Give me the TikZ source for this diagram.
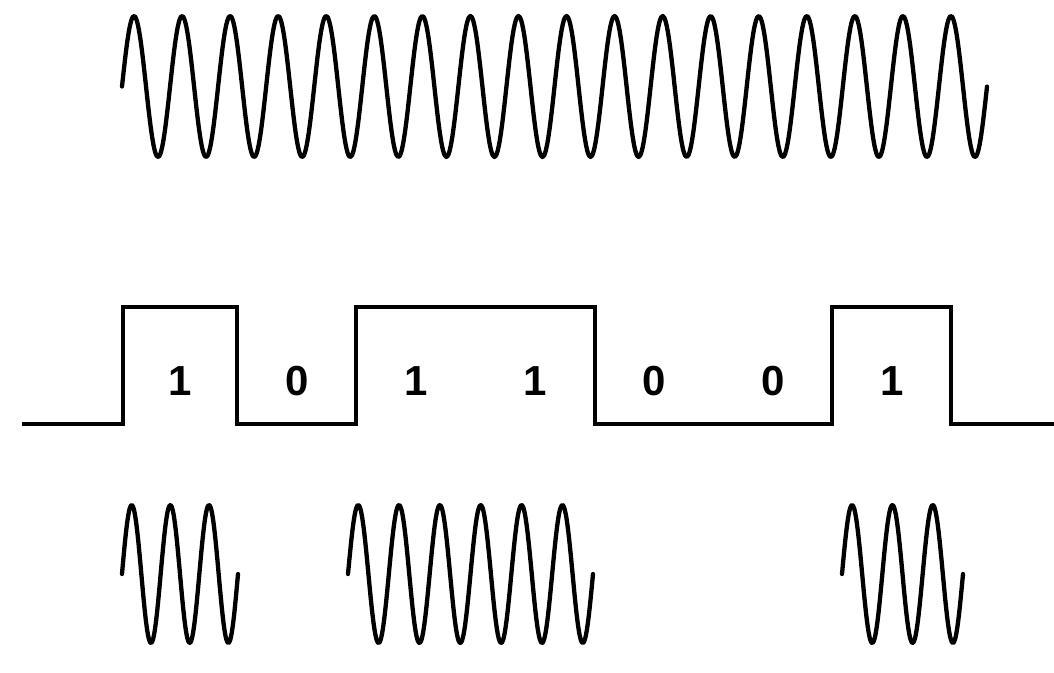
\documentclass[tikz,border=0pt]{standalone}
\usepackage{fontspec}
\setmainfont{Liberation Sans}
\begin{document}
\begin{tikzpicture}[x=1pt,y=-1pt,
  wave/.style={line width=4.3pt, line join=round, line cap=round},
  sig/.style={line width=4.2pt, line join=miter},
  bitlabel/.style={font=\fontsize{42}{46}\selectfont\bfseries, inner sep=0pt}]
\useasboundingbox (0,0) rectangle (1054,672);
% carrier
\draw[wave] plot[smooth, domain=122:987, samples=540] (\x,{86.5-70.5*sin((\x-122)/48.056*360)});
% data signal
\draw[sig] (22,424) -- (123,424) -- (123,307) -- (237,307) -- (237,424) -- (356,424) -- (356,307) -- (595,307) -- (595,424) -- (832,424) -- (832,307) -- (951,307) -- (951,424) -- (1054,424);
\node[bitlabel] (b1) at (180,381) {1};
\node[bitlabel] (b2) at (297,381) {0};
\node[bitlabel] (b3) at (416,381) {1};
\node[bitlabel] (b4) at (535,381) {1};
\node[bitlabel] (b5) at (654,381) {0};
\node[bitlabel] (b6) at (773,381) {0};
\node[bitlabel] (b7) at (892,381) {1};
% modulated bursts
\draw[wave] plot[smooth, domain=122:238, samples=120] (\x,{574-69*sin((\x-122)/38.667*360)});
\draw[wave] plot[smooth, domain=348:593, samples=240] (\x,{574-69*sin((\x-348)/40.833*360)});
\draw[wave] plot[smooth, domain=842:963, samples=120] (\x,{574-69*sin((\x-842)/40.333*360)});
\end{tikzpicture}
\end{document}
